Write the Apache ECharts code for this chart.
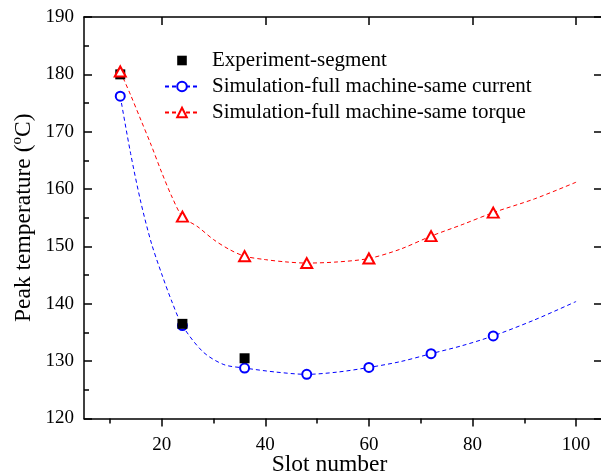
<!DOCTYPE html>
<html>
<head>
<meta charset="utf-8">
<script src="https://cdn.jsdelivr.net/npm/echarts@6/dist/echarts.min.js"></script>
<style>html,body{margin:0;padding:0;background:#fff;}#c{width:601px;height:476px;}</style>
</head>
<body>
<div id="c"></div>
<script>
// ---- data ----
var nameExp = 'Experiment-segment';
var nameCur = 'Simulation-full machine-same current';
var nameTor = 'Simulation-full machine-same torque';

var expSlots = [12, 24, 36];
var expTemp = [180, 136.5, 130.5];

var simSlots = [12, 24, 36, 48, 60, 72, 84];
var curTemp = [176.2, 136.2, 128.8, 127.7, 128.9, 131.3, 134.4];
var torTemp = [180.5, 155.2, 148.3, 147.1, 147.9, 151.8, 155.9];

var curFitSlots = [12, 14, 16, 18, 20, 22, 24, 28, 32, 36, 42, 48, 54, 60, 66, 72, 78, 84, 92, 100];
var curFitTemp = [176.2, 166.2, 157.6, 150.6, 145.2, 140.3, 136.2, 131.6, 129.4, 128.8, 128.1, 127.7, 128.1, 128.9, 129.9, 131.3, 132.7, 134.4, 137.2, 140.4];

var torFitSlots = [12, 14, 16, 18, 20, 22, 24, 27, 30, 33, 36, 40, 44, 48, 54, 60, 66, 72, 78, 84, 92, 100];
var torFitTemp = [180.5, 176.4, 172.0, 167.6, 162.9, 158.6, 155.2, 153.4, 151.2, 149.5, 148.3, 147.7, 147.3, 147.1, 147.3, 147.9, 149.5, 151.8, 153.8, 155.9, 158.3, 161.2];

var xMajorTicks = [20, 40, 60, 80, 100];
var xMinorTicks = [10, 30, 50, 70, 90];

function pairs(xs, ys) { return xs.map(function (x, i) { return [x, ys[i]]; }); }

var FONT = 'Liberation Serif';
var axisLineStyle = { color: '#000', width: 1.5 };

var chart = echarts.init(document.getElementById('c'), null, { renderer: 'canvas' });
chart.setOption({
  animation: false,
  backgroundColor: '#fff',
  textStyle: { fontFamily: FONT, color: '#000' },
  grid: { left: 84, top: 17, right: -1, bottom: 57.5, containLabel: false, outerBoundsMode: 'none' },
  legend: {
    orient: 'vertical', left: 164, top: 50, padding: 0,
    itemWidth: 34, itemHeight: 12, itemGap: 5,
    selectedMode: false,
    textStyle: { fontFamily: FONT, fontSize: 21, color: '#000', padding: [0, 0, 0, 8] },
    data: [nameExp, nameCur, nameTor]
  },
  xAxis: [
    {
      type: 'value', min: 5, max: 105, position: 'bottom',
      name: 'Slot number', nameLocation: 'middle', nameGap: 34, nameMoveOverlap: false,
      nameTextStyle: { fontFamily: FONT, fontSize: 23.5, color: '#000', padding: [0, 27, 0, 0] },
      axisLine: { show: true, onZero: false, lineStyle: axisLineStyle },
      axisTick: { show: true, inside: false, length: 8, lineStyle: axisLineStyle, customValues: xMajorTicks },
      axisLabel: { fontFamily: FONT, fontSize: 19, color: '#000', margin: 17, customValues: xMajorTicks },
      splitLine: { show: false }
    },
    {
      type: 'value', min: 5, max: 105, position: 'bottom',
      axisLine: { show: false, onZero: false },
      axisTick: { show: true, inside: false, length: 5, lineStyle: axisLineStyle, customValues: xMinorTicks },
      axisLabel: { show: false },
      splitLine: { show: false }
    },
    {
      type: 'value', min: 5, max: 105, position: 'top',
      axisLine: { show: true, onZero: false, lineStyle: axisLineStyle },
      axisTick: { show: true, inside: true, length: 8, lineStyle: axisLineStyle, customValues: xMajorTicks },
      axisLabel: { show: false },
      splitLine: { show: false }
    }
  ],
  yAxis: [
    {
      type: 'value', min: 120, max: 190, interval: 10, position: 'left',
      name: '{a|Peak temperature (}{s|o}{a|C)}', nameLocation: 'middle', nameGap: 47, nameRotate: 90,
      nameMoveOverlap: false,
      nameTextStyle: {
        fontFamily: FONT, fontSize: 23.5, color: '#000',
        rich: {
          a: { fontFamily: FONT, fontSize: 23.5, color: '#000', lineHeight: 27 },
          s: { fontFamily: FONT, fontSize: 15, color: '#000', lineHeight: 15, verticalAlign: 'top' }
        }
      },
      axisLine: { show: true, onZero: false, lineStyle: axisLineStyle },
      axisTick: { show: true, inside: true, length: 8, lineStyle: axisLineStyle },
      minorTick: { show: true, splitNumber: 2, length: 5, lineStyle: { color: '#000', width: 1.5 } },
      axisLabel: { fontFamily: FONT, fontSize: 19, color: '#000', margin: 10 },
      splitLine: { show: false }
    },
    {
      type: 'value', min: 120, max: 190, interval: 10, position: 'right',
      axisLine: { show: true, onZero: false, lineStyle: axisLineStyle },
      axisTick: { show: true, inside: true, length: 8, lineStyle: axisLineStyle },
      axisLabel: { show: false },
      splitLine: { show: false }
    }
  ],
  series: [
    {
      name: nameCur, type: 'line', xAxisIndex: 0, yAxisIndex: 0,
      data: pairs(curFitSlots, curFitTemp),
      smooth: 0.3, showSymbol: false, symbol: 'emptyCircle', symbolSize: 9,
      itemStyle: { color: '#0000ff' },
      lineStyle: { color: '#0000ff', width: 1, type: [4, 3] },
      z: 1
    },
    {
      name: nameTor, type: 'line', xAxisIndex: 0, yAxisIndex: 0,
      data: pairs(torFitSlots, torFitTemp),
      smooth: 0.3, showSymbol: false, symbol: 'emptyTriangle', symbolSize: 10,
      itemStyle: { color: '#ff0000' },
      lineStyle: { color: '#ff0000', width: 1, type: [4, 3] },
      z: 1
    },
    {
      name: nameCur, type: 'scatter', xAxisIndex: 0, yAxisIndex: 0,
      data: pairs(simSlots, curTemp),
      symbol: 'circle', symbolSize: 9,
      itemStyle: { color: '#ffffff', borderColor: '#0000ff', borderWidth: 2, opacity: 1 },
      z: 2
    },
    {
      name: nameExp, type: 'line', xAxisIndex: 0, yAxisIndex: 0,
      data: pairs(expSlots, expTemp),
      showSymbol: true, symbol: 'rect', symbolSize: 10,
      itemStyle: { color: '#000000', opacity: 1 },
      lineStyle: { width: 0, opacity: 0 },
      z: 3
    },
    {
      name: nameTor, type: 'scatter', xAxisIndex: 0, yAxisIndex: 0,
      data: pairs(simSlots, torTemp),
      symbol: 'triangle', symbolSize: [11, 10],
      itemStyle: { color: '#ffffff', borderColor: '#ff0000', borderWidth: 2, opacity: 1 },
      z: 4
    }
  ]
});
</script>
</body>
</html>
